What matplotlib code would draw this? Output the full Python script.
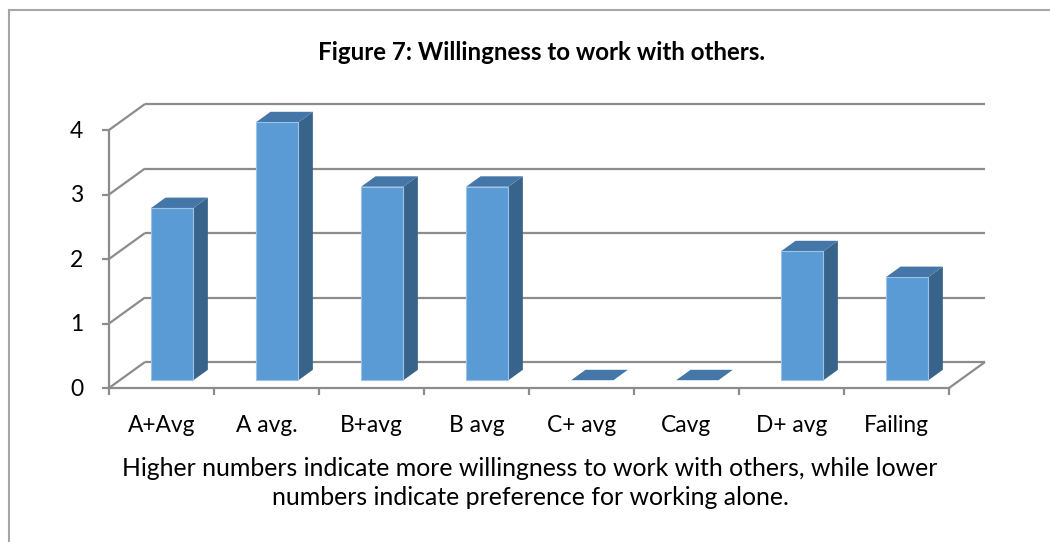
import matplotlib
matplotlib.use('Agg')
import matplotlib.pyplot as plt
from matplotlib.patches import Polygon
from matplotlib.lines import Line2D

categories = ['A+Avg', 'A avg.', 'B+avg', 'B avg', 'C+ avg', 'Cavg', 'D+ avg', 'Failing']
values = [2.67, 4.0, 3.0, 3.0, 0.0, 0.0, 2.0, 1.6]
y_ticks = [0, 1, 2, 3, 4]
title = 'Figure 7: Willingness to work with others.'
caption = ('Higher numbers indicate more willingness to work with others, while lower\n'
           'numbers indicate preference for working alone.')

W, H = 1050, 542
FONT = 'Lato'
GRID = '#8C8C8C'
FRONT = '#5B9BD5'
SIDE = '#38638A'
TOP = '#4476A8'

# oblique projection: depth z in [0, 1] shifts right and up
DX = 36 / 105.0
DY = 26 / 64.5
Z0 = 0.3      # bar front depth
DZ = 0.40     # bar depth
BW = 0.403    # bar width


def proj(x, y, z):
    return x + z * DX, y + z * DY


def fit_width(txt, target_px):
    # scale the font so the text box is as wide as in the reference
    r = fig.canvas.get_renderer()
    w = txt.get_window_extent(renderer=r).width
    txt.set_fontsize(txt.get_fontsize() * target_px / w)


fig = plt.figure(figsize=(W / 100, H / 100), dpi=100)
ax = fig.add_axes([109 / W, 154 / H, 840 / W, 258 / H])
n = len(categories)
ax.set_xlim(0, n)
ax.set_ylim(0, max(y_ticks))
ax.axis('off')

kw = dict(color=GRID, lw=1.6, clip_on=False, solid_capstyle='butt', zorder=1)

# back wall grid lines and left wall diagonals
for v in y_ticks:
    x0, y0 = proj(0, v, 1)
    x1, y1 = proj(n, v, 1)
    ax.plot([x0, x1], [y0, y1], **kw)
    ax.plot([0, x0], [v, y0], **kw)
    ax.plot([-0.07, 0], [v, v], **kw)
    ax.text(-0.31, v - 0.02, str(v), ha='center', va='center', fontsize=16.5,
            family=FONT, color='black')

# front left axis, floor edges
ax.plot([0, 0], [0, max(y_ticks)], **kw)
ax.plot([0, n], [0, 0], **kw)
xr, yr = proj(n, 0, 1)
ax.plot([n, xr], [0, yr], **kw)
for i in range(n + 1):
    ax.plot([i, i], [0, -0.11], **kw)

# bars
bx = [i + 0.5 + Z0 * DX for i in range(n)]
base = Z0 * DY
lws = [0.8 if v > 0 else 0 for v in values]
ax.bar(bx, values, width=BW, bottom=base, color=FRONT, edgecolor='#9CC2E8',
       linewidth=lws, zorder=3, clip_on=False)
for x, v in zip(bx, values):
    xl, xr = x - BW / 2, x + BW / 2
    top = base + v
    ox, oy = DZ * DX, DZ * DY
    if v > 0:
        ax.add_patch(Polygon([(xr, base), (xr, top), (xr + ox, top + oy),
                              (xr + ox, base + oy)], closed=True,
                             facecolor=SIDE, edgecolor='none', zorder=2,
                             clip_on=False))
    ax.add_patch(Polygon([(xl, top), (xr, top), (xr + ox, top + oy),
                          (xl + ox, top + oy)], closed=True,
                         facecolor=TOP, edgecolor='none', zorder=2,
                         clip_on=False))

# category labels
cat_texts = []
for i, c in enumerate(categories):
    cat_texts.append(ax.text(i + 0.5, -0.58, c, ha='center', va='center',
                             fontsize=16, family=FONT, color='black'))

t = fig.text(542 / W, 1 - 52 / H, title, ha='center', va='center', fontsize=16,
             fontweight='bold', family=FONT)
cap = fig.text(530 / W, 1 - 483 / H, caption, ha='center', va='center',
               fontsize=17, family=FONT, linespacing=1.35)

fit_width(t, 449)
fit_width(cap, 815)
fit_width(cat_texts[0], 68)
for ct in cat_texts[1:]:
    ct.set_fontsize(cat_texts[0].get_fontsize())

# outer chart border (only top and left visible)
fig.add_artist(Line2D([8.5 / W, 8.5 / W], [0, 1 - 9.5 / H], transform=fig.transFigure,
                      color='#A6A6A6', lw=1.5))
fig.add_artist(Line2D([8.5 / W, 1], [1 - 9.5 / H, 1 - 9.5 / H], transform=fig.transFigure,
                      color='#A6A6A6', lw=1.5))

fig.savefig('out.png', dpi=100)
